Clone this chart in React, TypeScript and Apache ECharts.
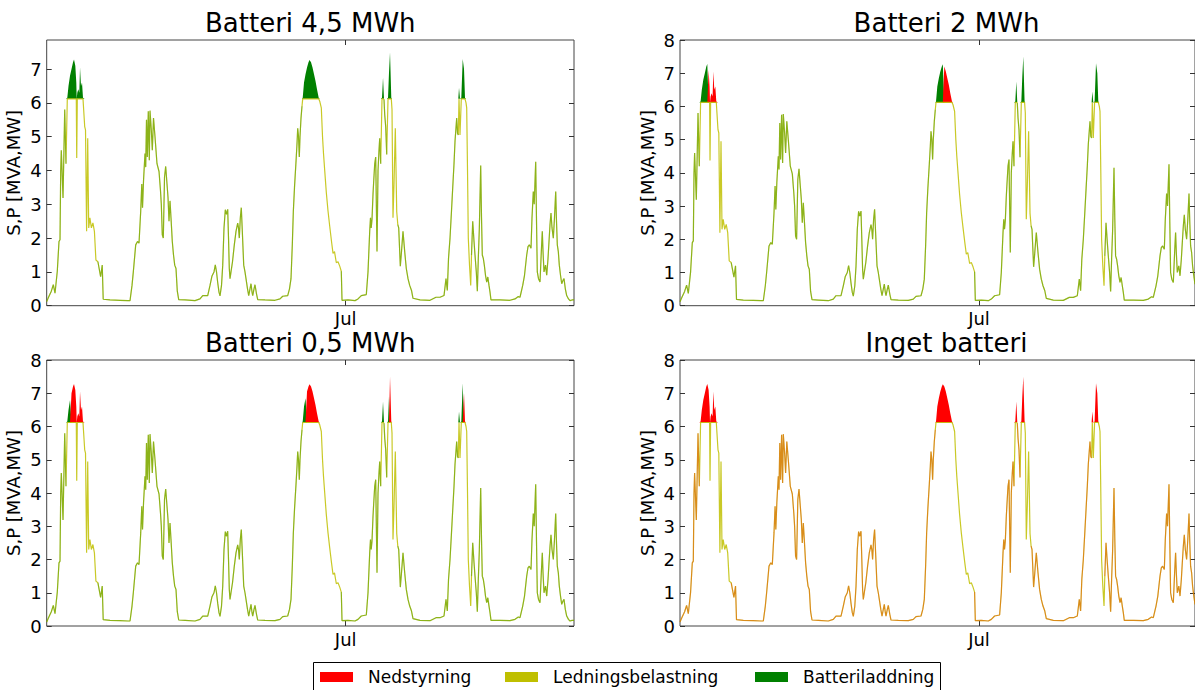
import React, { useEffect, useRef } from "react";
import * as echarts from "echarts";

// Time in hours relative to 1 July 00:00, value in MVA/MW (uncapped load)
const hours = [
  -91.44, -90.89, -90.03, -89.42, -88.9, -88.2, -87.68, -87.37, -87.16, -86.97, -86.45, -85.93, -85.54, -85.14,
  -84.77, -84.31, -83.85, -83.39, -83.09, -82.69, -82.39, -82.26, -82.08, -81.77, -81.47, -81.25, -80.95, -80.64,
  -80.34, -79.82, -79.57, -79.24, -78.9, -78.59, -78.23, -77.77, -77.31, -76.85, -76.39, -75.78, -74.95, -74.46,
  -74.16, -72.08, -69.02, -66.57,
  -65.96, -65.35, -64.95, -64.22, -63.67, -63.21, -62.69, -62.36, -62.14, -61.83, -61.38, -61.16, -60.92, -60.67,
  -60.37, -60.06, -59.85, -59.45, -59.14, -58.78, -58.32, -57.71, -57.09, -56.64, -56.39, -56.09, -55.78, -55.41,
  -55.05, -54.65, -54.34, -54.04, -53.73, -53.43, -53.03, -52.66, -52.29, -51.9, -51.5, -51.07, -49.14, -46.09,
  -44.56, -43.73, -42.2, -41.5, -40.89, -40.28, -39.88, -39.51, -39.14, -38.75, -38.44, -37.98, -37.61, -37.22,
  -36.82, -36.45, -36.09, -35.84, -35.6, -35.38, -35.08, -34.62, -34.07, -33.55, -33.03, -32.78, -32.54, -32.23,
  -31.93, -31.62, -31.19, -30.8, -30.49, -30.03, -29.66, -29.27, -28.96, -28.65, -28.44, -28.04, -27.74, -27.28,
  -26.91, -24.68, -21.62,
  -20.09, -19.27, -17.74, -17.19, -16.73, -16.33, -16.02, -15.66, -15.2, -14.89, -14.68, -14.43, -14.19, -13.98,
  -13.67, -13.37, -13.15, -12.75, -12.29, -11.83, -11.38, -11.07, -10.61, -10.15, -9.69, -9.24, -8.78, -8.26,
  -7.95, -7.46, -7.09, -6.79, -6.42, -5.93, -5.41, -4.89, -4.34, -3.88, -3.43, -2.87, -2.35, -1.83, -1.35, -1.13,
  0.7, 2.84,
  3.76, 4.77, 6.3, 6.51, 6.82, 7.34, 7.58, 7.8, 8.04, 8.35, 8.56, 8.87, 9.17, 9.57, 9.88, 10.18, 10.4, 10.7, 11.1,
  11.41, 11.71, 11.93, 12.23, 12.54, 12.94, 13.24, 13.55, 13.94, 14.16, 14.46, 14.77, 15.17, 15.6, 15.93, 16.21,
  16.7, 17.06, 17.52, 18.04, 18.53, 19.05, 19.57, 20.12, 20.58, 22.72, 25.78,
  27.61, 28.84, 30.06, 30.67, 31.07, 31.44, 31.9, 32.35, 32.72, 33.12, 33.43, 33.94, 34.19, 34.43, 34.65, 34.95,
  35.35, 35.78, 36.18, 36.48, 36.79, 37.0, 37.25, 37.49, 37.86, 38.23, 38.47, 38.84, 39.24, 39.54, 39.94, 40.25,
  40.55, 40.86, 41.28, 41.53, 41.77, 42.08, 42.39, 42.75, 43.12, 43.46, 43.82, 44.13, 44.43, 47.19, 50.24,
  51.77, 52.78, 53.3, 54.13, 54.68, 55.35, 55.75, 56.15, 56.67, 56.97, 57.37, 57.65, 58.1, 58.35, 58.59, 58.96,
  59.42, 59.82, 60.12, 60.34, 60.64, 61.1, 61.47, 61.87, 62.17, 62.48, 62.78, 63.09, 63.49, 63.85, 64.22, 64.46,
  64.71, 65.02, 65.32, 65.69, 66.06, 66.45, 66.76, 67.16, 67.58, 68.13, 68.59, 69.2, 69.82,
];

const load = [
  0.12, 0.25, 0.43, 0.62, 0.37, 1.02, 1.9, 1.95, 3.98, 4.6, 3.19, 5.8, 4.2, 6.15,
  6.5, 6.8, 7.0, 7.2, 7.28, 7.1, 6.6, 4.37, 6.3, 6.4, 6.3, 7.05, 6.5, 6.6,
  6.15, 5.3, 5.2, 2.2, 4.95, 2.3, 2.6, 2.3, 2.45, 2.2, 1.35, 1.3, 0.86, 1.2,
  0.19, 0.17, 0.16, 0.15,
  0.15, 0.6, 1.0, 1.8, 1.9, 1.85, 2.8, 3.6, 2.9, 3.7, 4.5, 4.1, 5.5, 4.4,
  5.75, 4.3, 5.77, 5.2, 4.6, 5.55, 5.0, 4.2, 3.97, 3.4, 3.0, 2.1, 2.0, 3.8,
  4.12, 3.6, 3.2, 2.5, 3.1, 2.6, 1.9, 1.5, 1.2, 1.1, 0.43, 0.18, 0.17, 0.15,
  0.2, 0.3, 0.3, 0.6, 0.88, 1.0, 1.21, 1.0, 0.68, 0.4, 0.29, 0.6, 1.2, 2.3,
  2.84, 2.7, 2.85, 2.0, 1.1, 0.8, 1.0, 1.3, 1.8, 2.2, 2.44, 2.3, 2.0, 2.6,
  2.9, 2.2, 1.2, 1.0, 0.8, 0.5, 0.3, 0.5, 0.65, 0.4, 0.3, 0.5, 0.62, 0.35,
  0.18, 0.17, 0.16,
  0.2, 0.28, 0.3, 0.5, 0.8, 1.8, 2.78, 3.5, 4.26, 4.8, 5.25, 5.0, 4.4, 5.0,
  5.55, 5.9, 6.15, 6.6, 6.85, 7.05, 7.2, 7.27, 7.2, 7.05, 6.85, 6.65, 6.4, 6.15,
  6.05, 5.85, 5.0, 4.5, 4.0, 3.35, 2.8, 2.35, 1.9, 1.55, 1.6, 1.27, 1.3, 1.17, 1.02, 0.16,
  0.17, 0.15,
  0.2, 0.3, 0.33, 0.6, 1.0, 2.2, 2.6, 2.3, 2.55, 3.3, 3.68, 4.2, 4.4, 1.6, 4.0, 4.6, 4.95, 4.2, 6.15,
  6.75, 6.1, 5.65, 5.3, 4.47, 6.15, 6.9, 7.5, 6.15, 5.8, 2.6, 3.6, 5.25, 2.78, 2.4, 2.3,
  1.17, 1.6, 2.2, 1.6, 1.1, 0.8, 0.6, 0.45, 0.22, 0.17, 0.16,
  0.25, 0.25, 0.3, 0.8, 0.45, 1.4, 2.0, 2.8, 3.48, 4.2, 4.87, 5.55, 5.1, 5.05, 6.45, 5.05,
  6.15, 7.3, 7.0, 6.15, 6.0, 5.85, 4.0, 2.0, 1.2, 0.6, 1.5, 2.5, 1.9, 1.5, 1.0, 0.43,
  1.4, 2.27, 4.15, 2.6, 1.5, 1.4, 1.2, 0.9, 0.7, 0.85, 0.6, 0.4, 0.17, 0.17, 0.16,
  0.2, 0.27, 0.25, 0.6, 0.9, 1.5, 1.75, 1.8, 1.7, 2.6, 3.38, 3.0, 4.26, 2.5, 1.0, 0.8,
  0.7, 1.6, 2.2, 1.6, 1.0, 1.2, 0.9, 1.4, 1.9, 2.4, 2.74, 2.3, 2.0, 2.6, 3.38, 2.5,
  1.8, 1.6, 1.2, 0.9, 0.65, 0.75, 0.8, 0.5, 0.3, 0.2, 0.15, 0.17, 0.17,
];

// Line capacity (load above it is either stored in the battery or curtailed)
const CAP = 6.12;

// Time windows (hours) in which the excess is charged into the battery; the rest is curtailed
const chargeWindows45: number[][] = [[-100, 100]];
const chargeWindows2: number[][] = [[-86, -83.09], [-14, -11.07], [10, 15], [34, 37]];
const chargeWindows05: number[][] = [[-86, -84.31], [-14, -12.29], [10, 13.24], [34, 35.8]];
const chargeWindows0: number[][] = [];

// Windows where only the yellow line is visible (the second trace departs from it)
const yellowOnlyWindows: number[][] = [[-80.5, -76.0], [-8.3, -1.8], [13.9, 15.9], [36.4, 38.3]];

const titles = ["Batteri 4,5 MWh", "Batteri 2 MWh", "Batteri 0,5 MWh", "Inget batteri"];
const yTicks = [0, 1, 2, 3, 4, 5, 6, 7, 8];
const xTickValues = [0];
const xTickLabel = "Jul";
const yAxisName = "S,P [MVA,MW]";
const legendNames = ["Nedstyrning", "Ledningsbelastning", "Batteriladdning"];

const RED = "#ff0000";
const YELLOW = "#bfbf00";
const GREEN = "#008000";
const FONT = "DejaVu Sans";

const PX_PER_HOUR = 3.27;
const X_START = -91.44;

const panels = [
  { left: 46.7, top: 40, width: 527.3, height: 265.7, titleX: 310.3, yMax: 7.86, wins: chargeWindows45, second: GREEN },
  { left: 680, top: 40, width: 515, height: 265.7, titleX: 946.5, yMax: 8, wins: chargeWindows2, second: GREEN },
  { left: 46.7, top: 360, width: 527.3, height: 266, titleX: 310.3, yMax: 8, wins: chargeWindows05, second: GREEN },
  { left: 680, top: 360, width: 515, height: 266, titleX: 946.5, yMax: 8, wins: chargeWindows0, second: RED },
];

function inWindow(t: number, wins: number[][]) {
  return wins.some(([a, b]) => t >= a && t <= b);
}

function buildOption() {
  const capped = load.map((v) => Math.min(v, CAP));
  const grid: any[] = [];
  const xAxis: any[] = [];
  const yAxis: any[] = [];
  const series: any[] = [];
  const graphic: any[] = [];
  const tickStyle = { color: "#333", width: 1 };
  const noLine = { show: false, onZero: false };

  panels.forEach((p, i) => {
    const xMin = X_START;
    const xMax = X_START + p.width / PX_PER_HOUR;
    grid.push({
      left: p.left, top: p.top, width: p.width, height: p.height,
      show: true, borderColor: "#444", borderWidth: 1, backgroundColor: "rgba(0,0,0,0)",
    });
    xAxis.push({
      gridIndex: i, type: "value", min: xMin, max: xMax, position: "bottom",
      axisLine: noLine, splitLine: { show: false },
      axisTick: { show: true, inside: true, length: 5, customValues: xTickValues, lineStyle: tickStyle },
      axisLabel: {
        customValues: xTickValues, formatter: () => xTickLabel,
        fontSize: 18, color: "#000", fontFamily: FONT, margin: 4,
      },
    });
    xAxis.push({
      gridIndex: i, type: "value", min: xMin, max: xMax, position: "top",
      axisLine: noLine, splitLine: { show: false },
      axisTick: { show: true, inside: true, length: 5, customValues: xTickValues, lineStyle: tickStyle },
      axisLabel: { show: false },
    });
    const yt = yTicks.filter((v) => v <= p.yMax);
    yAxis.push({
      gridIndex: i, type: "value", min: 0, max: p.yMax, position: "left",
      axisLine: noLine, splitLine: { show: false },
      axisTick: { show: true, inside: true, length: 5, customValues: yt, lineStyle: tickStyle },
      axisLabel: { customValues: yt, fontSize: 18, color: "#000", fontFamily: FONT, margin: 5 },
      name: yAxisName, nameLocation: "middle", nameRotate: 90, nameGap: 24,
      nameTextStyle: { fontSize: 18, color: "#000", fontFamily: FONT },
    });
    yAxis.push({
      gridIndex: i, type: "value", min: 0, max: p.yMax, position: "right",
      axisLine: noLine, splitLine: { show: false },
      axisTick: { show: true, inside: true, length: 5, customValues: yt, lineStyle: tickStyle },
      axisLabel: { show: false },
    });

    const xi = i * 2;
    const yi = i * 2;
    const common = { xAxisIndex: xi, yAxisIndex: yi, symbol: "none", silent: true, emphasis: { disabled: true } };
    const greenData = hours.map((t, k) => [t, inWindow(t, p.wins) ? Math.max(load[k], CAP) : CAP]);
    const redData = hours.map((t, k) => [t, inWindow(t, p.wins) ? CAP : Math.max(load[k], CAP)]);
    const lineData = hours.map((t, k) => [t, capped[k]]);
    const secondData = hours.map((t, k) =>
      inWindow(t, yellowOnlyWindows) || load[k] > CAP ? [t, "-"] : [t, capped[k]]
    );

    series.push({ ...common, type: "line", name: legendNames[2], data: greenData,
      lineStyle: { width: 0, opacity: 0 }, areaStyle: { color: GREEN, opacity: 1, origin: CAP }, z: 2 });
    series.push({ ...common, type: "line", name: legendNames[0], data: redData,
      lineStyle: { width: 0, opacity: 0 }, areaStyle: { color: RED, opacity: 1, origin: CAP }, z: 2 });
    series.push({ ...common, type: "line", name: legendNames[1], data: lineData,
      lineStyle: { color: YELLOW, width: 1.2, opacity: 0.85 }, itemStyle: { color: YELLOW }, z: 3 });
    series.push({ ...common, type: "line", name: "secondary" + i, data: secondData, connectNulls: false,
      lineStyle: { color: p.second, width: 1.2, opacity: 0.3 }, itemStyle: { color: p.second }, z: 4 });

    graphic.push({
      type: "text",
      style: {
        text: titles[i], x: p.titleX, y: p.top - 17,
        fill: "#000", font: `26px "${FONT}"`,
        textAlign: "center", align: "center", textVerticalAlign: "middle", verticalAlign: "middle",
      },
    });
  });

  // Legend
  const legendColors = [RED, YELLOW, GREEN];
  const patchX = [320, 505, 755];
  const textX = [368, 553, 803];
  graphic.push({
    type: "rect", shape: { x: 313.5, y: 662.5, width: 627, height: 40 },
    style: { fill: "#fff", stroke: "#000", lineWidth: 1 },
  });
  legendNames.forEach((n, k) => {
    graphic.push({ type: "rect", shape: { x: patchX[k], y: 672, width: 33, height: 10 }, style: { fill: legendColors[k] } });
    graphic.push({
      type: "text",
      style: {
        text: n, x: textX[k], y: 677, fill: "#000", font: `17px "${FONT}"`,
        textAlign: "left", align: "left", textVerticalAlign: "middle", verticalAlign: "middle",
      },
    });
  });

  return { animation: false, backgroundColor: "#fff", grid, xAxis, yAxis, series, graphic };
}

export default function App() {
  const ref = useRef<HTMLDivElement>(null);
  useEffect(() => {
    if (!ref.current) return;
    const chart = echarts.init(ref.current, null, { renderer: "svg" });
    chart.setOption(buildOption() as any);
    return () => chart.dispose();
  }, []);
  return (
    <div
      ref={ref}
      style={{ position: "fixed", left: 0, top: 0, width: 1195, height: 690, background: "#fff" }}
    />
  );
}
